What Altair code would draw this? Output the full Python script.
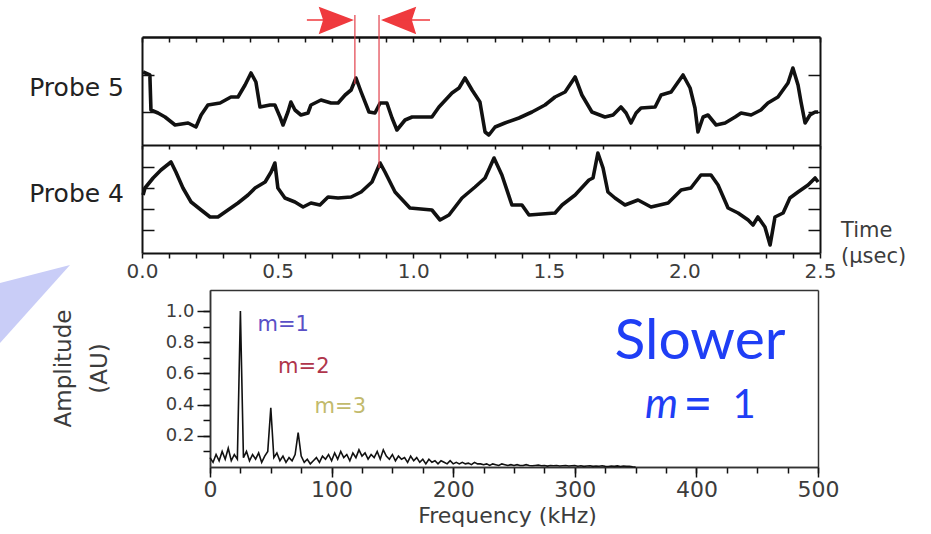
import altair as alt
import pandas as pd

# ---------------- data ----------------
# Probe 5 trace: time (microseconds) and signal level (arbitrary units)
probe5_t = [0.004, 0.029, 0.033, 0.059, 0.085, 0.122, 0.170, 0.199, 0.218, 0.243,
            0.288, 0.328, 0.354, 0.380, 0.402, 0.420, 0.435, 0.472, 0.490, 0.509,
            0.520, 0.538, 0.549, 0.564, 0.586, 0.612, 0.623, 0.660, 0.697, 0.723,
            0.749, 0.771, 0.789, 0.808, 0.837, 0.859, 0.878, 0.903, 0.922, 0.940,
            0.970, 0.996, 1.069, 1.095, 1.143, 1.169, 1.191, 1.217, 1.246, 1.265,
            1.279, 1.302, 1.338, 1.390, 1.438, 1.486, 1.523, 1.560, 1.597, 1.622,
            1.659, 1.707, 1.737, 1.766, 1.785, 1.803, 1.822, 1.840, 1.892, 1.914,
            1.951, 1.995, 2.021, 2.039, 2.050, 2.069, 2.087, 2.117, 2.150, 2.187,
            2.209, 2.246, 2.282, 2.308, 2.345, 2.382, 2.400, 2.419, 2.430, 2.445,
            2.463, 2.482, 2.493]
probe5_v = [73, 70, 35, 32, 28, 20, 22, 18, 30, 40,
            42, 48, 48, 60, 72, 63, 38, 40, 40, 28,
            20, 33, 43, 35, 30, 32, 40, 45, 42, 42,
            50, 55, 67, 53, 33, 32, 42, 42, 27, 15,
            25, 28, 28, 38, 52, 57, 67, 55, 43, 13,
            10, 18, 22, 27, 33, 40, 48, 53, 68, 50,
            33, 28, 30, 38, 32, 22, 32, 37, 38, 50,
            53, 70, 57, 37, 13, 28, 30, 20, 22, 28,
            32, 30, 35, 42, 48, 62, 77, 60, 43, 22,
            30, 33, 33]

# Probe 4 trace
probe4_t = [0.004, 0.011, 0.041, 0.070, 0.107, 0.125, 0.151, 0.181, 0.218, 0.251,
            0.280, 0.317, 0.354, 0.391, 0.417, 0.454, 0.476, 0.490, 0.501, 0.527,
            0.564, 0.594, 0.623, 0.656, 0.686, 0.723, 0.771, 0.808, 0.848, 0.878,
            0.896, 0.933, 0.988, 1.069, 1.099, 1.132, 1.180, 1.228, 1.265, 1.298,
            1.327, 1.364, 1.401, 1.427, 1.523, 1.549, 1.597, 1.648, 1.663, 1.681,
            1.700, 1.718, 1.744, 1.781, 1.829, 1.877, 1.940, 1.988, 2.024, 2.061,
            2.098, 2.124, 2.161, 2.198, 2.235, 2.253, 2.271, 2.297, 2.316, 2.334,
            2.364, 2.389, 2.419, 2.456, 2.482, 2.493]
probe4_v = [58, 65, 75, 83, 91, 81, 65, 51, 43, 36,
            36, 43, 50, 58, 65, 71, 81, 90, 65, 55,
            51, 46, 50, 48, 56, 55, 56, 61, 71, 90,
            81, 61, 45, 43, 33, 38, 55, 66, 75, 95,
            78, 48, 48, 38, 40, 48, 58, 73, 75, 100,
            85, 61, 55, 48, 53, 46, 50, 63, 65, 78,
            78, 68, 45, 40, 33, 28, 36, 26, 8, 36,
            40, 55, 61, 68, 75, 71]

# Red markers: peak of probe 5 and peak of probe 4 (microseconds)
marker_times = [0.785, 0.874]

# Spectrum: amplitude (AU) sampled every 2.5 kHz from 0 to 350 kHz
spec_step_khz = 2.5
spec_amp = [0.06, 0.03, 0.08, 0.04, 0.10, 0.05, 0.12, 0.04, 0.08, 0.05,
            1.00, 0.06, 0.10, 0.04, 0.08, 0.05, 0.09, 0.03, 0.07, 0.10,
            0.38, 0.06, 0.09, 0.04, 0.07, 0.03, 0.06, 0.04, 0.08, 0.22,
            0.07, 0.03, 0.05, 0.02, 0.04, 0.06, 0.03, 0.07, 0.05, 0.08,
            0.04, 0.09, 0.05, 0.10, 0.06, 0.08, 0.04, 0.09, 0.06, 0.11,
            0.07, 0.09, 0.05, 0.08, 0.06, 0.10, 0.05, 0.11, 0.07, 0.05,
            0.08, 0.04, 0.07, 0.05, 0.06, 0.03, 0.07, 0.04, 0.06, 0.03,
            0.05, 0.02, 0.05, 0.03, 0.04, 0.02, 0.04, 0.03, 0.02, 0.04,
            0.02, 0.03, 0.02, 0.03, 0.02, 0.025, 0.015, 0.03, 0.02, 0.02,
            0.015, 0.02, 0.01, 0.02, 0.015, 0.01, 0.02, 0.015, 0.01, 0.015,
            0.01, 0.015, 0.01, 0.01, 0.015, 0.01, 0.008, 0.01, 0.012, 0.008,
            0.01, 0.006, 0.01, 0.008, 0.01, 0.006, 0.008, 0.01, 0.006, 0.008,
            0.01, 0.005, 0.008, 0.004, 0.006, 0.008, 0.004, 0.006, 0.005, 0.008,
            0.004, 0.003, 0.006, 0.004, 0.007, 0.003, 0.006, 0.004, 0.005, 0.002,
            0.0]

# Harmonic annotations in the spectrum
harm_labels = ["m=1", "m=2", "m=3"]
harm_freq = [39, 56, 86]
harm_amp = [0.91, 0.64, 0.385]
harm_colors = ["#5a50c6", "#b0354b", "#c2ba6c"]

time_minor_ticks = [round(i * 0.1, 1) for i in range(26)]
freq_major_ticks = [0, 100, 200, 300, 400, 500]
freq_minor_ticks = [i * 25 for i in range(21)]
amp_major_ticks = [0.2, 0.4, 0.6, 0.8, 1.0]
amp_minor_ticks = [round(i * 0.1, 1) for i in range(1, 11)]

# ---------------- layout / style ----------------
W, H = 931, 534
FONT = "DejaVu Sans"
INK = "#111111"
LBL = "#3c3c3c"
RED = "#ef3a3e"
BLUE = "#1f3ef5"

tscale = alt.Scale(domain=[0, 2.5], range=[142, 820], nice=False, zero=False)
p5scale = alt.Scale(domain=[0, 108], range=[145, 37], nice=False, zero=False)
p4scale = alt.Scale(domain=[0, 108], range=[253, 145], nice=False, zero=False)
fscale = alt.Scale(domain=[0, 500], range=[210, 818], nice=False, zero=False)
ascale = alt.Scale(domain=[0, 1.135], range=[467, 290], nice=False, zero=False)


def ax(orient, at, **kw):
    if orient == "bottom":
        off = at - H
    elif orient == "top":
        off = -at
    elif orient == "left":
        off = -at
    else:
        off = at - W
    base = dict(orient=orient, offset=off, grid=False, title=None, labels=False,
                domainColor=INK, tickColor=INK, labelFont=FONT, labelColor=LBL,
                labelOverlap=False, labelFlush=False)
    base.update(kw)
    return alt.Axis(**base)


p5_df = pd.DataFrame({"t": probe5_t, "v": probe5_v})
p4_df = pd.DataFrame({"t": probe4_t, "v": probe4_v})
spec_df = pd.DataFrame({"f": [i * spec_step_khz for i in range(len(spec_amp))],
                        "a": spec_amp})
harm_df = pd.DataFrame({"f": harm_freq, "a": harm_amp, "label": harm_labels,
                        "c": harm_colors})

layers = []

# decorative light-blue pointer on the left
layers.append(
    alt.Chart(pd.DataFrame({"k": [0]})).mark_point(
        shape="M0,283L70,265L0,343Z", size=4, filled=True, color="#c9cdf7", opacity=1
    ).encode(x=alt.value(0), y=alt.value(0))
)

# probe 5 trace (top border + left border axes)
layers.append(
    alt.Chart(p5_df).mark_line(color=INK, strokeWidth=3.6, strokeJoin="round").encode(
        x=alt.X("t:Q", scale=tscale,
                axis=ax("bottom", 37, values=time_minor_ticks, tickSize=5, tickWidth=1.5,
                        domainWidth=2.5)),
        y=alt.Y("v:Q", scale=p5scale,
                axis=ax("right", 142, values=[33, 70], tickSize=12, tickWidth=1.5,
                        domainWidth=2)),
    )
)
# probe 5 frame (middle line + right border)
layers.append(
    alt.Chart(p5_df).mark_line(opacity=0).encode(
        x=alt.X("t:Q", scale=tscale,
                axis=ax("bottom", 145, values=time_minor_ticks, tickSize=4, tickWidth=1.5,
                        domainWidth=2)),
        y=alt.Y("v:Q", scale=p5scale,
                axis=ax("left", 820, values=[33, 70], tickSize=12, tickWidth=1.5,
                        domainWidth=2)),
    )
)
# probe 4 trace (bottom time axis with labels + left border)
layers.append(
    alt.Chart(p4_df).mark_line(color=INK, strokeWidth=3.6, strokeJoin="round").encode(
        x=alt.X("t:Q", scale=tscale,
                axis=ax("bottom", 253, values=time_minor_ticks, tickSize=5, tickWidth=1.5,
                        domainWidth=2, labels=True, labelFontSize=20, labelPadding=3,
                        labelExpr="round(datum.value*10) % 5 == 0 ? format(datum.value, '.1f') : ''")),
        y=alt.Y("v:Q", scale=p4scale,
                axis=ax("right", 142, values=[23, 44, 65, 86], tickSize=12, tickWidth=1.5,
                        domainWidth=2)),
    )
)
# probe 4 frame (right border)
layers.append(
    alt.Chart(p4_df).mark_line(opacity=0).encode(
        x=alt.X("t:Q", scale=tscale, axis=None),
        y=alt.Y("v:Q", scale=p4scale,
                axis=ax("left", 820, values=[23, 44, 65, 86], tickSize=12, tickWidth=1.5,
                        domainWidth=2)),
    )
)

# red markers
m1 = pd.DataFrame({"t": [marker_times[0]]})
m2 = pd.DataFrame({"t": [marker_times[1]]})
layers.append(
    alt.Chart(m1).mark_rule(color="#e2404b", strokeWidth=1.2).encode(
        x=alt.X("t:Q", scale=tscale, axis=None), y=alt.value(15), y2=alt.value(84))
)
layers.append(
    alt.Chart(m2).mark_rule(color="#e2404b", strokeWidth=1.2).encode(
        x=alt.X("t:Q", scale=tscale, axis=None), y=alt.value(15), y2=alt.value(168))
)
layers.append(
    alt.Chart(m1).mark_point(
        shape="M-48,0L-3,0M-35,-12L-3,0L-35,13L-31,0Z", size=4, filled=True,
        fill=RED, stroke=RED, strokeWidth=1.5, opacity=1
    ).encode(x=alt.X("t:Q", scale=tscale, axis=None), y=alt.value(20))
)
layers.append(
    alt.Chart(m2).mark_point(
        shape="M51,0L4,0M36,-12L4,0L36,13L32,0Z", size=4, filled=True,
        fill=RED, stroke=RED, strokeWidth=1.5, opacity=1
    ).encode(x=alt.X("t:Q", scale=tscale, axis=None), y=alt.value(20))
)

# probe labels and time title
layers.append(
    alt.Chart(pd.DataFrame({"s": ["Probe 5"]})).mark_text(
        font=FONT, fontSize=25, color="#222222", align="right", baseline="alphabetic"
    ).encode(text="s:N", x=alt.value(124), y=alt.value(96))
)
layers.append(
    alt.Chart(pd.DataFrame({"s": ["Probe 4"]})).mark_text(
        font=FONT, fontSize=25, color="#222222", align="right", baseline="alphabetic"
    ).encode(text="s:N", x=alt.value(124), y=alt.value(202))
)
layers.append(
    alt.Chart(pd.DataFrame({"s": ["Time\n(μsec)"]})).mark_text(
        font=FONT, fontSize=21, color=LBL, align="left", baseline="alphabetic",
        lineBreak="\n", lineHeight=26
    ).encode(text="s:N", x=alt.value(841), y=alt.value(237))
)

# spectrum line with major axes
layers.append(
    alt.Chart(spec_df).mark_line(color=INK, strokeWidth=1.6).encode(
        x=alt.X("f:Q", scale=fscale,
                axis=ax("bottom", 467, values=freq_major_ticks, tickSize=10, tickWidth=1.5,
                        domainWidth=1.5, domainColor="#333333", labels=True,
                        labelFontSize=22, labelPadding=2, format="d",
                        title="Frequency (kHz)", titleFont=FONT, titleFontSize=22,
                        titleFontWeight="normal", titleColor=LBL, titleX=507, titleY=55,
                        titleAlign="center", titleBaseline="alphabetic")),
        y=alt.Y("a:Q", scale=ascale,
                axis=ax("left", 210, values=amp_major_ticks, tickSize=13, tickWidth=1.5,
                        domainWidth=1.5, domainColor="#333333", labels=True,
                        labelFontSize=18, labelPadding=3, format=".1f",
                        title=["Amplitude", "(AU)"], titleFont=FONT, titleFontSize=23,
                        titleFontWeight="normal", titleColor=LBL, titleAngle=270,
                        titleX=-158, titleY=368, titleAlign="center",
                        titleBaseline="top", titleLineHeight=36)),
    )
)
# spectrum minor ticks
layers.append(
    alt.Chart(spec_df).mark_line(opacity=0).encode(
        x=alt.X("f:Q", scale=fscale,
                axis=ax("bottom", 467, values=freq_minor_ticks, tickSize=6, tickWidth=1.5,
                        domainWidth=1.5, domainColor="#333333")),
        y=alt.Y("a:Q", scale=ascale,
                axis=ax("left", 210, values=amp_minor_ticks, tickSize=7, tickWidth=1.5,
                        domainWidth=1.5, domainColor="#333333")),
    )
)
# spectrum frame (top and right borders)
layers.append(
    alt.Chart(spec_df).mark_line(opacity=0).encode(
        x=alt.X("f:Q", scale=fscale,
                axis=ax("bottom", 290, ticks=False, domainWidth=1.5, domainColor="#333333")),
        y=alt.Y("a:Q", scale=ascale,
                axis=ax("left", 818, ticks=False, domainWidth=1.5, domainColor="#333333")),
    )
)
# harmonic labels
layers.append(
    alt.Chart(harm_df).mark_text(font=FONT, fontSize=21, align="left", baseline="middle").encode(
        x=alt.X("f:Q", scale=fscale, axis=None),
        y=alt.Y("a:Q", scale=ascale, axis=None),
        text="label:N",
        color=alt.Color("c:N", scale=None),
    )
)

# "Slower" / "m = 1"
layers.append(
    alt.Chart(pd.DataFrame({"s": ["Slower"]})).mark_text(
        font="Lato", fontSize=57, color=BLUE, align="center", baseline="alphabetic"
    ).encode(text="s:N", x=alt.value(700), y=alt.value(359))
)
layers.append(
    alt.Chart(pd.DataFrame({"s": ["m"]})).mark_text(
        font="Lato", fontSize=42, fontStyle="italic", color=BLUE, align="right",
        baseline="alphabetic"
    ).encode(text="s:N", x=alt.value(678), y=alt.value(418))
)
layers.append(
    alt.Chart(pd.DataFrame({"s": ["="]})).mark_text(
        font="Lato", fontSize=50, color=BLUE, align="center", baseline="alphabetic"
    ).encode(text="s:N", x=alt.value(698), y=alt.value(421))
)
layers.append(
    alt.Chart(pd.DataFrame({"s": ["1"]})).mark_text(
        font="Lato", fontSize=40, color=BLUE, align="center", baseline="alphabetic"
    ).encode(text="s:N", x=alt.value(744), y=alt.value(418))
)

chart = alt.layer(*layers).resolve_scale(
    x="independent", y="independent"
).resolve_axis(
    x="independent", y="independent"
).properties(
    width=W, height=H, padding=0, background="white",
    autosize=alt.AutoSizeParams(type="none"),
).configure_view(stroke=None)

chart.save("out.html", embed_options={"renderer": "svg", "actions": False})
